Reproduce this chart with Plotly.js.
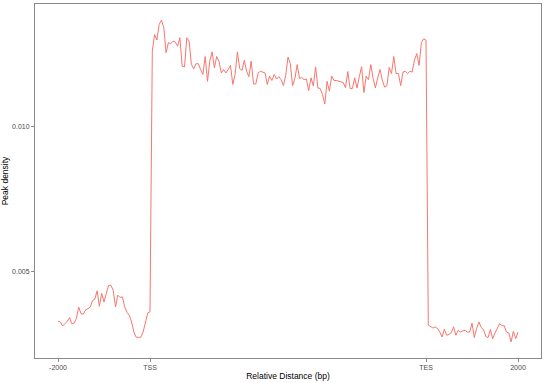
<!DOCTYPE html>
<html>
<head>
<meta charset="utf-8">
<script src="https://cdn.plot.ly/plotly-3.0.1.min.js"></script>
<style>
html,body{margin:0;padding:0;background:#fff;}
#chart{width:547px;height:383px;}
</style>
</head>
<body>
<div id="chart"></div>
<script>
// Peak density profile: upstream flank (-2000 .. TSS), scaled gene body (TSS .. TES), downstream flank (TES .. 2000)
const upstream = [
  0.00327, 0.00324, 0.00310, 0.00317, 0.00326, 0.00339, 0.00318, 0.00320, 0.00336, 0.00375,
  0.00353, 0.00351, 0.00366, 0.00370, 0.00375, 0.00398, 0.00403, 0.00432, 0.00378, 0.00423,
  0.00393, 0.00423, 0.00451, 0.00451, 0.00434, 0.00376, 0.00417, 0.00409, 0.00411, 0.00376,
  0.00357, 0.00347, 0.00324, 0.00289, 0.00271, 0.00271, 0.00271, 0.00289, 0.00324, 0.00355,
  0.00359
];
const body = [
  0.01261, 0.01319, 0.01300, 0.01354, 0.01369, 0.01343, 0.01256, 0.01291, 0.01287, 0.01296,
  0.01293, 0.01279, 0.01308, 0.01209, 0.01207, 0.01308, 0.01296, 0.01215, 0.01200, 0.01218,
  0.01218, 0.01198, 0.01181, 0.01243, 0.01157, 0.01227, 0.01259, 0.01204, 0.01243, 0.01226,
  0.01186, 0.01198, 0.01186, 0.01198, 0.01212, 0.01146, 0.01181, 0.01259, 0.01201, 0.01195,
  0.01230, 0.01192, 0.01173, 0.01227, 0.01148, 0.01148, 0.01186, 0.01192, 0.01190, 0.01186,
  0.01146, 0.01175, 0.01160, 0.01181, 0.01165, 0.01173, 0.01163, 0.01142, 0.01177, 0.01241,
  0.01219, 0.01142, 0.01167, 0.01215, 0.01167, 0.01170, 0.01163, 0.01165, 0.01125, 0.01169,
  0.01141, 0.01207, 0.01134, 0.01132, 0.01111, 0.01079, 0.01157, 0.01123, 0.01175, 0.01160,
  0.01160, 0.01157, 0.01156, 0.01153, 0.01135, 0.01191, 0.01132, 0.01132, 0.01169, 0.01134,
  0.01173, 0.01208, 0.01118, 0.01175, 0.01163, 0.01215, 0.01167, 0.01134, 0.01169, 0.01198,
  0.01161, 0.01137, 0.01142, 0.01205, 0.01184, 0.01243, 0.01184, 0.01184, 0.01142, 0.01189,
  0.01192, 0.01184, 0.01192, 0.01189, 0.01231, 0.01253, 0.01212, 0.01292, 0.01304, 0.01300
];
const downstream = [
  0.00313, 0.00307, 0.00303, 0.00307, 0.00301, 0.00289, 0.00272, 0.00299, 0.00278, 0.00281,
  0.00287, 0.00307, 0.00278, 0.00295, 0.00289, 0.00293, 0.00295, 0.00289, 0.00289, 0.00320,
  0.00270, 0.00301, 0.00324, 0.00305, 0.00298, 0.00274, 0.00270, 0.00298, 0.00266, 0.00286,
  0.00305, 0.00318, 0.00311, 0.00311, 0.00289, 0.00286, 0.00255, 0.00292, 0.00266, 0.00289
];
const xTickLabels = ["-2000", "TSS", "TES", "2000"];
const yTickVals = [0.005, 0.010];
const yTickText = ["0.005", "0.010"];

const density = upstream.concat(body, downstream);
const bins = density.map((_, i) => i);          // bin index along the meta-gene
const tssBin = upstream.length - 1;
const tesBin = upstream.length + body.length - 1;
const endBin = density.length - 1;
const xTickVals = [0, tssBin, tesBin, endBin];

const ymin = Math.min(...density), ymax = Math.max(...density);
const ypad = (ymax - ymin) * 0.05;
const xpad = endBin * 0.05;

const axisCommon = {
  showgrid: false, zeroline: false,
  showline: true, mirror: true, linecolor: '#8a8a8a', linewidth: 1,
  ticks: 'outside', ticklen: 3, tickwidth: 1, tickcolor: '#8a8a8a',
  tickfont: {family: 'Liberation Sans, Arial, sans-serif', size: 7, color: '#4d4d4d'}
};

Plotly.newPlot('chart', [{
  x: bins, y: density, type: 'scatter', mode: 'lines',
  line: {color: '#F8766D', width: 1}, hoverinfo: 'skip', showlegend: false
}], {
  width: 547, height: 383,
  margin: {l: 35, r: 6, t: 4, b: 25},
  paper_bgcolor: '#ffffff', plot_bgcolor: '#ffffff',
  xaxis: Object.assign({}, axisCommon, {
    range: [-xpad, endBin + xpad],
    tickmode: 'array', tickvals: xTickVals, ticktext: xTickLabels,
    title: {text: 'Relative Distance (bp)', standoff: 2,
      font: {family: 'Liberation Sans, Arial, sans-serif', size: 8.5, color: '#000'}}
  }),
  yaxis: Object.assign({}, axisCommon, {
    range: [ymin - ypad, ymax + ypad],
    tickmode: 'array', tickvals: yTickVals, ticktext: yTickText,
    title: {text: 'Peak density', standoff: 4,
      font: {family: 'Liberation Sans, Arial, sans-serif', size: 8.5, color: '#000'}}
  })
}, {displayModeBar: false, staticPlot: true});
</script>
</body>
</html>
